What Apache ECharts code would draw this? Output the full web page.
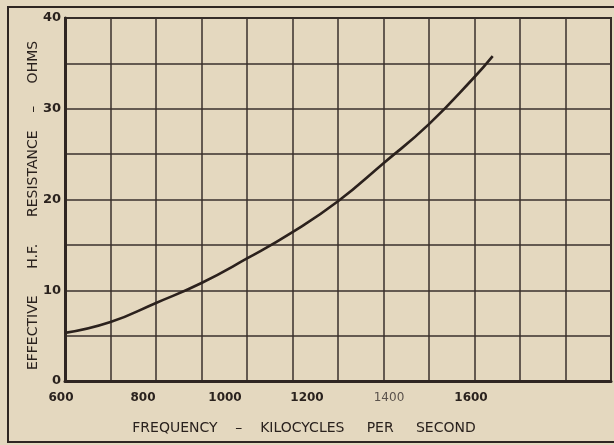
<!DOCTYPE html>
<html>
<head>
<meta charset="utf-8">
<script src="https://cdn.jsdelivr.net/npm/echarts@6/dist/echarts.min.js"></script>
<style>
  html, body { margin: 0; padding: 0; background: #e4d8bf; }
  #chart { width: 614px; height: 445px; }
</style>
</head>
<body>
<div id="chart"></div>
<script>
// Effective high-frequency resistance of a coil versus frequency
const frequencies = [600, 700, 800, 900, 1000, 1100, 1200, 1300, 1400, 1500, 1540];
const resistance  = [5.3, 6.5, 8.6, 10.8, 13.5, 16.4, 19.8, 24.0, 28.3, 33.5, 35.8];
const xTickLabels = [600, 800, 1000, 1200, 1400, 1600];
const yTickLabels = [0, 10, 20, 30, 40];

const ink = '#2a221e';
const font = 'DejaVu Sans';

// Per-label rich styles: the printed frequency figures drift left of their grid lines
const xRich = {};
xTickLabels.forEach(v => {
  const shift = 4 + (v - 600) * 0.045;
  xRich['f' + v] = {
    fontFamily: font,
    fontWeight: v === 1400 ? 'normal' : 'bold',
    fontSize: 12,
    color: v === 1400 ? '#5a524c' : ink,
    align: 'center',
    padding: [0, Math.round(shift * 2), 0, 0]
  };
});

const chart = echarts.init(document.getElementById('chart'), null, { renderer: 'canvas' });
chart.setOption({
  backgroundColor: '#e4d8bf',
  animation: false,
  graphic: [{
    type: 'rect',
    shape: { x: 8, y: 7, width: 640, height: 435 },
    style: { fill: 'none', stroke: '#2f2622', lineWidth: 2 },
    z: -1
  }],
  grid: {
    left: 65, right: 2, top: 18, bottom: 64,
    show: true, borderColor: '#2f2622', borderWidth: 2, backgroundColor: 'transparent'
  },
  xAxis: {
    type: 'value', min: 600, max: 1800, interval: 100,
    name: 'FREQUENCY    –    KILOCYCLES     PER     SECOND',
    nameLocation: 'middle', nameGap: 40,
    nameTextStyle: { fontFamily: font, fontSize: 14, color: ink, padding: [0, 68, 0, 0] },
    axisLine: { show: true, lineStyle: { color: '#2f2622', width: 3 } },
    axisTick: { show: false },
    axisLabel: {
      margin: 11,
      formatter: v => xTickLabels.includes(v) ? '{f' + v + '|' + v + '}' : '',
      rich: xRich
    },
    splitLine: { show: true, lineStyle: { color: '#3a302c', width: 1.5 } }
  },
  yAxis: {
    type: 'value', min: 0, max: 40, interval: 5,
    name: 'EFFECTIVE      H.F.      RESISTANCE    –     OHMS',
    nameLocation: 'middle', nameGap: 25, nameMoveOverlap: false,
    nameTextStyle: { fontFamily: font, fontSize: 14, color: ink, padding: [0, 12, 0, 0] },
    axisLine: { show: true, lineStyle: { color: '#2f2622', width: 3 } },
    axisTick: { show: false },
    axisLabel: {
      margin: 4,
      fontFamily: font, fontWeight: 'bold', fontSize: 13, color: ink,
      formatter: v => yTickLabels.includes(v) ? String(v) : ''
    },
    splitLine: { show: true, lineStyle: { color: '#3a302c', width: 1.5 } }
  },
  series: [{
    type: 'line',
    data: frequencies.map((f, i) => [f, resistance[i]]),
    smooth: true,
    showSymbol: false,
    lineStyle: { color: '#2b211d', width: 2.6 },
    z: 5
  }]
});
</script>
</body>
</html>
